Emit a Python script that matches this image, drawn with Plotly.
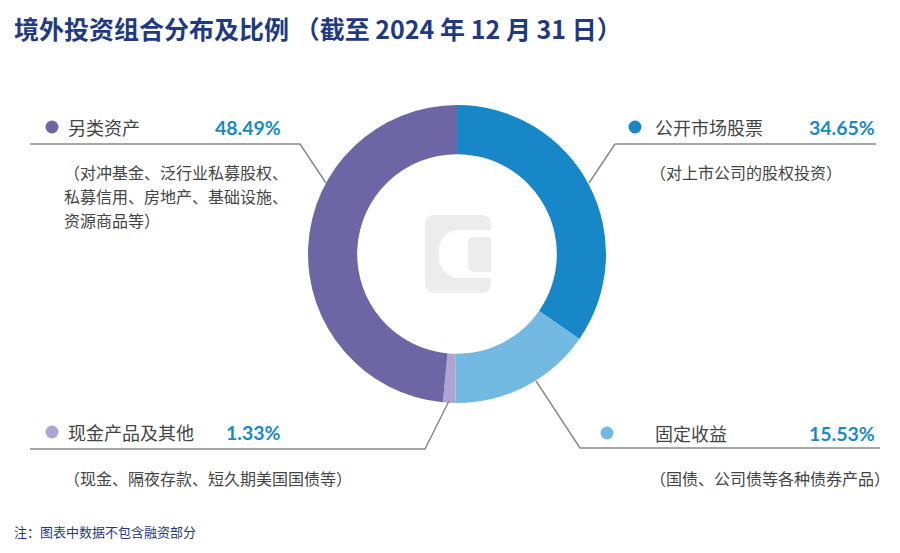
import plotly.graph_objects as go

W, H = 900, 553

categories = ["公开市场股票", "固定收益", "现金产品及其他", "另类资产"]
values = [34.65, 15.53, 1.33, 48.49]
value_labels = ["34.65%", "15.53%", "1.33%", "48.49%"]
descriptions = [
    ["（对上市公司的股权投资）"],
    ["（国债、公司债等各种债券产品）"],
    ["（现金、隔夜存款、短久期美国国债等）"],
    ["（对冲基金、泛行业私募股权、", "私募信用、房地产、基础设施、", "资源商品等）"],
]
colors = ["#1787c7", "#72b9e2", "#aaa5d1", "#6e66a4"]

title_text = "境外投资组合分布及比例 （截至 2024 年 12 月 31 日）"
note_text = "注：图表中数据不包含融资部分"

CJK = "Noto Sans CJK SC"
NAVY = "#1f3a80"
TXT = "#444444"
PCT = "#1a89c7"
LINE = "#8a8a8a"


def X(px):
    return px / W


def Y(py):
    return 1 - py / H


cx, cy, r = 457, 254, 149

fig = go.Figure()
fig.add_trace(go.Pie(
    labels=categories, values=values, sort=False, direction="clockwise",
    rotation=0, hole=0.67, textinfo="none", hoverinfo="label+percent",
    marker=dict(colors=colors, line=dict(width=0)),
    domain=dict(x=[X(cx - r), X(cx + r)], y=[Y(cy + r), Y(cy - r)]),
    showlegend=False,
))

shapes = []
annotations = []

# title
annotations.append(dict(x=X(12), y=Y(28), xref="paper", yref="paper", text="<b>" + title_text + "</b>",
                        showarrow=False, xanchor="left", yanchor="middle",
                        font=dict(family=CJK, size=25, color=NAVY)))
annotations.append(dict(x=X(12), y=Y(531), xref="paper", yref="paper", text=note_text,
                        showarrow=False, xanchor="left", yanchor="middle",
                        font=dict(family=CJK, size=13, color=NAVY)))

# leader lines (pixel polylines -> paper)
leaders = [
    [(615, 144), (876, 144)],
    [(589, 183), (615, 144)],
    [(536, 381), (580, 448), (880, 448)],
    [(449, 401), (425, 449), (30, 449)],
    [(326, 183), (300, 144), (30, 144)],
]
for pts in leaders:
    path = "M " + " L ".join(f"{X(a):.5f},{Y(b):.5f}" for a, b in pts)
    shapes.append(dict(type="path", xref="paper", yref="paper", path=path,
                       line=dict(color=LINE, width=1.5)))

# label blocks: (dot x, label x, pct right x, row y, desc x, desc y0)
blocks = [
    (635, 653, 877, 127, 648, 172),
    (607, 653, 877, 433, 648, 478),
    (52, 66, 283, 432, 62, 478),
    (52, 66, 283, 127, 62, 172),
]
for i, (dx, lx, px_, ry, descx, descy) in enumerate(blocks):
    shapes.append(dict(type="circle", xref="paper", yref="paper",
                       x0=X(dx - 6.5), x1=X(dx + 6.5), y0=Y(ry + 6.5), y1=Y(ry - 6.5),
                       fillcolor=colors[i], line=dict(width=0)))
    annotations.append(dict(x=X(lx), y=Y(ry), xref="paper", yref="paper", text=categories[i],
                            showarrow=False, xanchor="left", yanchor="middle",
                            font=dict(family=CJK, size=18, color=TXT)))
    annotations.append(dict(x=X(px_), y=Y(ry), xref="paper", yref="paper",
                            text="<b>" + value_labels[i] + "</b>",
                            showarrow=False, xanchor="right", yanchor="middle",
                            font=dict(family="Lato", size=19.5, color=PCT)))
    for j, line in enumerate(descriptions[i]):
        annotations.append(dict(x=X(descx), y=Y(descy + 24 * j), xref="paper", yref="paper", text=line,
                                showarrow=False, xanchor="left", yanchor="middle",
                                font=dict(family=CJK, size=16, color=TXT)))


def rrect(x0, y0, x1, y1, rl, rr):
    k = 0.45
    p = [f"M {X(x0 + rl)},{Y(y0)}",
         f"L {X(x1 - rr)},{Y(y0)}",
         f"C {X(x1 - rr * k)},{Y(y0)} {X(x1)},{Y(y0 + rr * k)} {X(x1)},{Y(y0 + rr)}",
         f"L {X(x1)},{Y(y1 - rr)}",
         f"C {X(x1)},{Y(y1 - rr * k)} {X(x1 - rr * k)},{Y(y1)} {X(x1 - rr)},{Y(y1)}",
         f"L {X(x0 + rl)},{Y(y1)}",
         f"C {X(x0 + rl * k)},{Y(y1)} {X(x0)},{Y(y1 - rl * k)} {X(x0)},{Y(y1 - rl)}",
         f"L {X(x0)},{Y(y0 + rl)}",
         f"C {X(x0)},{Y(y0 + rl * k)} {X(x0 + rl * k)},{Y(y0)} {X(x0 + rl)},{Y(y0)} Z"]
    return " ".join(p)


LOGO = "#ececec"
shapes.append(dict(type="path", xref="paper", yref="paper", path=rrect(425, 215, 491, 293, 9, 9),
                   fillcolor=LOGO, line=dict(width=0)))
shapes.append(dict(type="path", xref="paper", yref="paper", path=rrect(439, 230, 492, 278, 20, 0),
                   fillcolor="white", line=dict(width=0)))
shapes.append(dict(type="path", xref="paper", yref="paper", path=rrect(468, 237, 491, 272, 6, 0),
                   fillcolor=LOGO, line=dict(width=0)))

fig.update_layout(
    width=W, height=H, margin=dict(l=0, r=0, t=0, b=0),
    paper_bgcolor="white", plot_bgcolor="white",
    shapes=shapes, annotations=annotations,
)

fig.write_html("out.html")
